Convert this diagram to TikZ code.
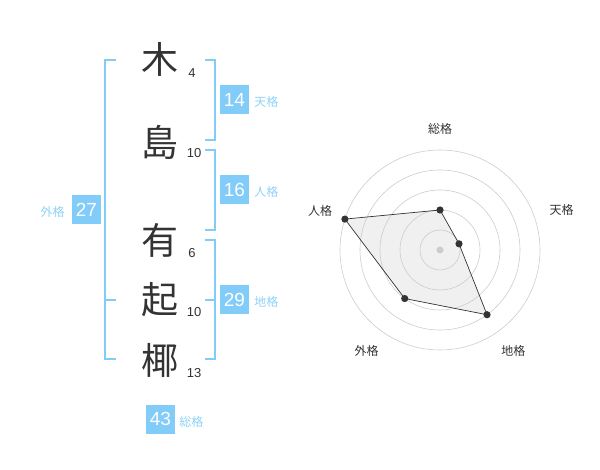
\documentclass[tikz,border=0pt]{standalone}
\usepackage{fontspec}
\setmainfont{Liberation Sans}
\newfontfamily\jpfont{Noto Sans CJK JP}
\usetikzlibrary{positioning}
\definecolor{skyblue}{HTML}{82CCFA}
\definecolor{labelblue}{HTML}{8ED2F8}
\definecolor{inkgray}{HTML}{333333}
\definecolor{ringgray}{HTML}{CCCCCC}
\definecolor{areagray}{HTML}{F0F0F0}
\begin{document}
\begin{tikzpicture}[x=1pt, y=-1pt,
    kanji/.style={font=\jpfont\fontsize{37}{37}\selectfont, text=inkgray, inner sep=0pt},
    strokes/.style={font=\fontsize{13}{13}\selectfont, text=inkgray, inner sep=0pt},
    scorebox/.style={fill=skyblue, text=white, minimum size=29pt, inner sep=0pt,
      font=\fontsize{19}{19}\selectfont},
    scorelabel/.style={font=\jpfont\fontsize{12}{12}\selectfont, text=labelblue, inner sep=0pt},
    bracket/.style={draw=skyblue, line width=2pt},
    radarlabel/.style={font=\jpfont\fontsize{12}{12}\selectfont, text=inkgray, inner sep=0pt}]
  \useasboundingbox (0,0) rectangle (600,470);

  % Name characters
  \node[kanji] (ki)    at (160,59)  {木};
  \node[kanji] (shima) at (160,142) {島};
  \node[kanji] (yu)    at (160,240) {有};
  \node[kanji] (oki)   at (160,300) {起};
  \node[kanji] (yashi) at (160,360) {椰};

  % Stroke counts
  \node[strokes] (n1) at (192,73)  {4};
  \node[strokes] (n2) at (194,153) {10};
  \node[strokes] (n3) at (192,253) {6};
  \node[strokes] (n4) at (194,312) {10};
  \node[strokes] (n5) at (194,373) {13};

  % Brackets
  \draw[bracket] (116,60) -- (105,60) -- (105,359) -- (116,359)
    (105,300) -- (116,300);
  \draw[bracket] (205,60) -- (215,60) -- (215,140) -- (205,140);
  \draw[bracket] (205,150) -- (215,150) -- (215,230) -- (205,230);
  \draw[bracket] (205,240) -- (215,240) -- (215,359) -- (205,359)
    (205,300) -- (215,300);

  % Scores
  \node[scorebox] (tenkaku)  at (234.5,100) {14};
  \node[scorebox] (jinkaku)  at (234.5,190) {16};
  \node[scorebox] (chikaku)  at (234.5,300) {29};
  \node[scorebox] (gaikaku)  at (86.5,210)  {27};
  \node[scorebox] (soukaku)  at (160.5,419) {43};
  \node[scorelabel, right=5pt of tenkaku, yshift=-2pt] (tenlabel)  {天格};
  \node[scorelabel, right=5pt of jinkaku, yshift=-2pt] (jinlabel)  {人格};
  \node[scorelabel, right=5pt of chikaku, yshift=-2pt] (chilabel)  {地格};
  \node[scorelabel, left=7pt of gaikaku, yshift=-2pt]  (gailabel)  {外格};
  \node[scorelabel, right=4pt of soukaku, yshift=-3pt] (soulabel)  {総格};

  % Radar chart
  \begin{scope}[shift={(440,250)}, y=1pt]
    \foreach \ang/\rad/\name in {90/40/a, 18/20/b, -54/80/c, -126/60/d, 162/100/e}
      \coordinate (p\name) at (\ang:\rad);
    \fill[areagray] (pa) -- (pb) -- (pc) -- (pd) -- (pe) -- cycle;
    \foreach \r in {20,40,60,80,100}
      \draw[ringgray, line width=0.6pt] (0,0) circle[radius=\r pt];
    \fill[ringgray] (0,0) circle[radius=3.5pt];
    \draw[inkgray, line width=0.7pt] (pa) -- (pb) -- (pc) -- (pd) -- (pe) -- cycle;
    \foreach \name in {a,b,c,d,e}
      \fill[inkgray] (p\name) circle[radius=3.6pt];
    \node[radarlabel] (rsou) at (90:121)   {総格};
    \node[radarlabel] (rten) at (18:128)   {天格};
    \node[radarlabel] (rchi) at (-54:125)  {地格};
    \node[radarlabel] (rgai) at (-126:125) {外格};
    \node[radarlabel] (rjin) at (162:126)  {人格};
  \end{scope}
\end{tikzpicture}
\end{document}
